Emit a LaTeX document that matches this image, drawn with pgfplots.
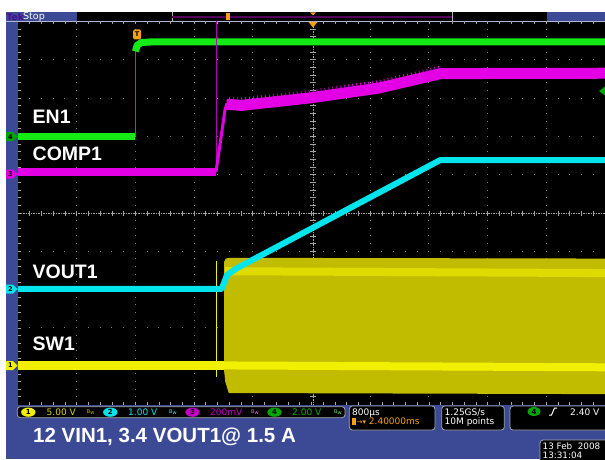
\documentclass[border=0pt]{standalone}
\usepackage{pgfplots}
\pgfplotsset{compat=1.18}
\usepackage{pgfplotstable}
\usepackage{fontspec}
\setmainfont{Liberation Sans}
\newfontfamily\tekfont{DejaVu Sans}

\definecolor{tekblue}{RGB}{60,74,150}
\definecolor{chone}{RGB}{240,240,0}
\definecolor{chonedark}{RGB}{194,188,0}
\definecolor{chtwo}{RGB}{0,228,235}
\definecolor{chthree}{RGB}{228,0,228}
\definecolor{chfour}{RGB}{20,235,20}
\definecolor{chfourdark}{RGB}{0,165,0}
\definecolor{tekorange}{RGB}{245,160,20}
\definecolor{griddot}{RGB}{125,125,125}
\definecolor{centergray}{RGB}{165,165,165}
\definecolor{tekpurple}{RGB}{75,10,150}
\definecolor{barpurple}{RGB}{85,0,95}

% ---- channel 4 : EN1 ----
\pgfplotstableread{
x y
-5.2 2.00
-3.00 2.00
}\enlow
\pgfplotstableread{
x y
-3.00 2.00
-3.00 4.30
}\enedge
\pgfplotstableread{
x y
-3.00 4.22
-2.97 4.38
-2.90 4.45
-2.70 4.47
5.2 4.47
}\enhigh
% ---- channel 3 : COMP1 ----
\pgfplotstableread{
x y
-5.2 1.07
-1.627 1.07
}\complow
\pgfplotstableread{
x y
-1.627 5.2
-1.627 1.07
}\compglitch
\pgfplotstableread{
x y
-1.627 1.07
-1.474 2.69
-1.44 2.86
}\comprise
\pgfplotstableread{
x y
-1.45 2.84
-1.20 2.81
-0.65 2.90
0.00 3.01
1.14 3.26
2.20 3.64
5.2 3.65
}\comphigh
\pgfplotstableread{
x y
-1.40 2.83
-1.20 2.81
-0.65 2.90
0.00 3.01
1.14 3.26
2.20 3.64
}\compspike
% ---- channel 2 : VOUT1 ----
\pgfplotstableread{
x y
-5.2 -1.98
-1.53 -1.98
-1.44 -1.62
-1.27 -1.44
2.19 1.38
5.2 1.38
}\vout
% ---- channel 1 : SW1 ----
\pgfplotstableread{
x y
-5.2 -3.98
-1.49 -3.98
}\swlow
\pgfplotstableread{
x y
-1.627 -1.26
-1.627 -4.27
}\swglitch
\pgfplotstableread{
x y
-1.49 -1.28
-1.46 -1.19
-1.40 -1.17
5.2 -1.19
5.2 -4.73
-1.41 -4.70
-1.47 -4.40
-1.49 -4.10
}\swblock
\pgfplotstableread{
x y
-1.47 -1.52
5.2 -1.57
}\swhigh
\pgfplotstableread{
x y
-1.49 -3.98
5.2 -4.03
}\swmid

\begin{document}
\begin{tikzpicture}
\useasboundingbox (0,0) rectangle (605pt,459pt);
% ================= background, frame, grid =================
\begin{scope}[x=1pt,y=1pt,yshift=459pt,yscale=-1]
  \fill[white] (0,0) rectangle (605,459);
  \fill[tekblue] (6,12) rectangle (605,459);
  \fill[black] (18,21.5) rectangle (605,404.5);
  % top record bar
  \fill[black] (77,12.5) rectangle (547,21);
  \draw[gray!60, line width=0.8] (172,12.5) -- (172,21) (452,12.5) -- (452,21);
  \draw[barpurple, line width=1.6] (172,16.8) -- (452,16.8);
  \draw[tekblue!40!white, line width=0.8] (6,21.5) -- (605,21.5);
  % grid dots
  \foreach \k in {1,2,3,4,6,7,8,9}{
    \foreach \m in {1,...,49}{
      \fill[griddot] ({18+58.7*\k-0.5},{21.5+7.66*\m-0.5}) rectangle ++(1,1);
    }
  }
  \foreach \j in {1,2,3,4,6,7,8,9}{
    \foreach \m in {1,...,49}{
      \fill[griddot] ({18+11.74*\m-0.5},{21.5+38.3*\j-0.5}) rectangle ++(1,1);
    }
  }
  % centre cross
  \draw[centergray, line width=0.7, dash pattern=on 1.5pt off 1pt] (313,21.5) -- (313,404.5);
  \draw[centergray, line width=0.7, dash pattern=on 1.5pt off 1pt] (18,213) -- (605,213);
  \foreach \m in {1,...,49}{
    \draw[centergray, line width=0.7] ({18+11.74*\m},210.5) -- ++(0,5);
    \draw[centergray, line width=0.7] (310,{21.5+7.66*\m}) -- ++(6,0);
    \draw[centergray, line width=0.7] ({18+11.74*\m},21.5) -- ++(0,3);
    \draw[centergray, line width=0.7] ({18+11.74*\m},404.5) -- ++(0,-3);
    \draw[centergray, line width=0.7] (18,{21.5+7.66*\m}) -- ++(3,0);
  }
\end{scope}

% ================= waveforms =================
\begin{axis}[at={(18pt,54.5pt)}, anchor=south west, scale only axis,
  width=587pt, height=383pt, xmin=-5, xmax=5, ymin=-5, ymax=5,
  axis lines=none, clip=true]
  % SW1
  \addplot[draw=none, fill=chonedark] table {\swblock};
  \addplot[chone!60!chonedark, line width=8pt] table {\swhigh};
  \addplot[chone, line width=8pt] table {\swmid};
  \addplot[chone, line width=9pt] table {\swlow};
  \addplot[chone, line width=1pt] table {\swglitch};
  % VOUT1
  \addplot[chtwo, line width=6pt, line join=round] table {\vout};
  % EN1
  \addplot[chfour, line width=6.5pt] table {\enlow};
  \addplot[chfourdark, line width=1pt] table {\enedge};
  \addplot[chfour, line width=7pt, line join=round] table {\enhigh};
  % COMP1
  \addplot[chthree, line width=8pt] table {\complow};
  \addplot[chthree!80!black, line width=1pt] table {\compglitch};
  \addplot[chthree, line width=3pt, line join=round] table {\comprise};
  \addplot[chthree, line width=11pt, line join=round] table {\comphigh};
  \addplot[chthree, line width=5pt, dash pattern=on 0.7pt off 3.3pt, yshift=5.5pt] table {\compspike};
\end{axis}

% ================= overlays =================
\begin{scope}[x=1pt,y=1pt,yshift=459pt,yscale=-1]
  % top bar texts and markers
  \node[anchor=west, inner sep=0, text=tekpurple, font=\tekfont\bfseries\fontsize{9}{10}\selectfont] at (6.5,16.8) {Tek};
  \node[anchor=west, inner sep=0, text=white, font=\tekfont\fontsize{9.5}{10}\selectfont] at (23,16.8) {Stop};
  \fill[tekorange] (226,13.5) rectangle (230,20.5);
  \fill[tekorange] (310,12.3) -- (316,12.3) -- (313,15.5) -- cycle;
  \fill[tekorange] (308.5,22) -- (317.5,22) -- (313,27.5) -- cycle;
  % trigger position icon
  \fill[tekorange, rounded corners=1.5pt] (133,29.5) rectangle (141,39.5);
  \node[inner sep=0, text=black, font=\tekfont\bfseries\fontsize{6.5}{7}\selectfont] at (137,34.5) {T};
  % trigger level marker (right)
  \fill[chfourdark] (599,91) -- (605,86.5) -- (605,95.5) -- cycle;
  % channel markers
  \foreach \yy/\cc/\nn in {136.7/chfourdark/4, 174/chthree/3, 289/chtwo/2, 365.5/chone/1}{
    \fill[\cc] (6,\yy-4.5) -- (13,\yy-4.5) -- (17.5,\yy) -- (13,\yy+4.5) -- (6,\yy+4.5) -- cycle;
    \node[inner sep=0, text=black, font=\tekfont\bfseries\fontsize{6.5}{7}\selectfont] at (10.5,\yy) {\nn};
  }
  % trace labels
  \foreach \yy/\tt in {123/EN1, 160/COMP1, 278/VOUT1, 350/SW1}{
    \node[anchor=base west, inner sep=0, text=white, font=\bfseries\fontsize{19.5}{20}\selectfont] at (32.5,\yy) {\tt};
  }
  % ---------- status bar ----------
  \draw[gray!70, fill=black, rounded corners=3pt, line width=0.8] (17.3,406.7) rectangle (345,417.7);
  \fill[chone] (28.3,412.2) ellipse [x radius=7.2, y radius=4.6];
  \node[inner sep=0, text=black, font=\tekfont\bfseries\fontsize{7}{7}\selectfont] at (28.3,412.2) {1};
  \node[anchor=base west, inner sep=0, text=chone!90!black, font=\tekfont\fontsize{9}{10}\selectfont] at (46.5,415.4) {5.00 V};
  \node[inner sep=0, text=chone!80!black, font=\tekfont\fontsize{5}{5}\selectfont] at (90.7,412) {B\raisebox{-1.5pt}{w}};
  \fill[chtwo] (110.3,412.2) ellipse [x radius=7.2, y radius=4.6];
  \node[inner sep=0, text=black, font=\tekfont\bfseries\fontsize{7}{7}\selectfont] at (110.3,412.2) {2};
  \node[anchor=base west, inner sep=0, text=chtwo, font=\tekfont\fontsize{9}{10}\selectfont] at (128,415.4) {1.00 V};
  \node[inner sep=0, text=chtwo!70!white, font=\tekfont\fontsize{5}{5}\selectfont] at (173,412) {B\raisebox{-1.5pt}{w}};
  \fill[chthree!85!black] (192.5,412.2) ellipse [x radius=7.2, y radius=4.6];
  \node[inner sep=0, text=black, font=\tekfont\bfseries\fontsize{7}{7}\selectfont] at (192.5,412.2) {3};
  \node[anchor=base west, inner sep=0, text=chthree!85!black, font=\tekfont\fontsize{9}{10}\selectfont] at (210,415.4) {200mV};
  \node[inner sep=0, text=chthree!60!white, font=\tekfont\fontsize{5}{5}\selectfont] at (255,412) {B\raisebox{-1.5pt}{w}};
  \fill[chfourdark] (274.5,412.2) ellipse [x radius=7.2, y radius=4.6];
  \node[inner sep=0, text=black, font=\tekfont\bfseries\fontsize{7}{7}\selectfont] at (274.5,412.2) {4};
  \node[anchor=base west, inner sep=0, text=chfourdark!80!chfour, font=\tekfont\fontsize{9}{10}\selectfont] at (292,415.4) {2.00 V};
  \node[inner sep=0, text=chfour!70!white, font=\tekfont\fontsize{5}{5}\selectfont] at (338,412) {B\raisebox{-1.5pt}{w}};
  % timebase box
  \draw[gray!70, fill=black, rounded corners=3pt, line width=0.8] (349.3,406) rectangle (435,430);
  \node[anchor=base west, inner sep=0, text=white, font=\tekfont\fontsize{9}{10}\selectfont] at (352,415.4) {800µs};
  \fill[tekorange] (351.8,418.3) rectangle (356,424.5);
  \node[anchor=base west, inner sep=0, text=tekorange, font=\tekfont\fontsize{9}{10}\selectfont] at (356.5,424.6) {\fontsize{7}{8}\selectfont→▾\fontsize{9}{10}\selectfont{} 2.40000ms};
  % sample rate box
  \draw[gray!70, fill=black, rounded corners=3pt, line width=0.8] (441.7,406) rectangle (504.3,430);
  \node[anchor=base west, inner sep=0, text=white, font=\tekfont\fontsize{9}{10}\selectfont] at (444.5,415.4) {1.25GS/s};
  \node[anchor=base west, inner sep=0, text=white, font=\tekfont\fontsize{9}{10}\selectfont] at (444.5,424.6) {10M points};
  % trigger box
  \draw[gray!70, fill=black, rounded corners=3pt, line width=0.8] (510,406) rectangle (615,430);
  \fill[chfourdark] (534,411.5) ellipse [x radius=6.5, y radius=4.5];
  \node[inner sep=0, text=black, font=\tekfont\bfseries\fontsize{7}{7}\selectfont] at (534,411.5) {4};
  \draw[white, line width=1] (549,415) -- (551.5,415) -- (554.5,408) -- (557,408);
  \node[anchor=base west, inner sep=0, text=white, font=\tekfont\fontsize{9}{10}\selectfont] at (570,415.4) {2.40 V};
  % date box
  \draw[gray!70, fill=black, rounded corners=3pt, line width=0.8] (540,440) rectangle (615,470);
  \node[anchor=base west, inner sep=0, text=white, font=\tekfont\fontsize{8.8}{10}\selectfont] at (542.5,449) {13 Feb\ \ 2008};
  \node[anchor=base west, inner sep=0, text=white, font=\tekfont\fontsize{8.8}{10}\selectfont] at (542.5,458.3) {13:31:04};
  % title
  \node[anchor=base west, inner sep=0, text=white, font=\bfseries\fontsize{20.5}{22}\selectfont] at (33,442.3) {12 VIN1, 3.4 VOUT1@ 1.5 A};
\end{scope}
\end{tikzpicture}
\end{document}
